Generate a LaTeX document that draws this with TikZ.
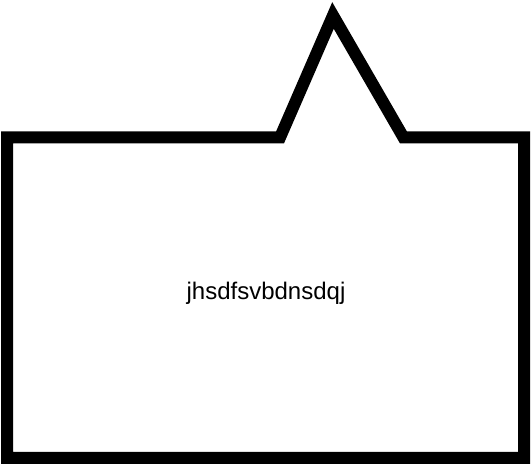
\documentclass[tikz,border=0pt]{standalone}
\usepackage{fontspec}
\setmainfont{Liberation Sans}
\usetikzlibrary{positioning}

\begin{document}
\begin{tikzpicture}[x=1pt, y=1pt]
    \useasboundingbox (0,0) rectangle (531,466);

    % speech bubble outline
    \draw[line width=12pt, line join=miter]
        (7,328.5) -- (280,328.5) -- (333,450.5) -- (403.5,328.5)
        -- (524,328.5) -- (524,8) -- (7,8) -- cycle;

    \node[anchor=base, font=\fontsize{24}{28}\selectfont, inner sep=0pt] (label) at (266,166) {jhsdfsvbdnsdqj};
\end{tikzpicture}
\end{document}
